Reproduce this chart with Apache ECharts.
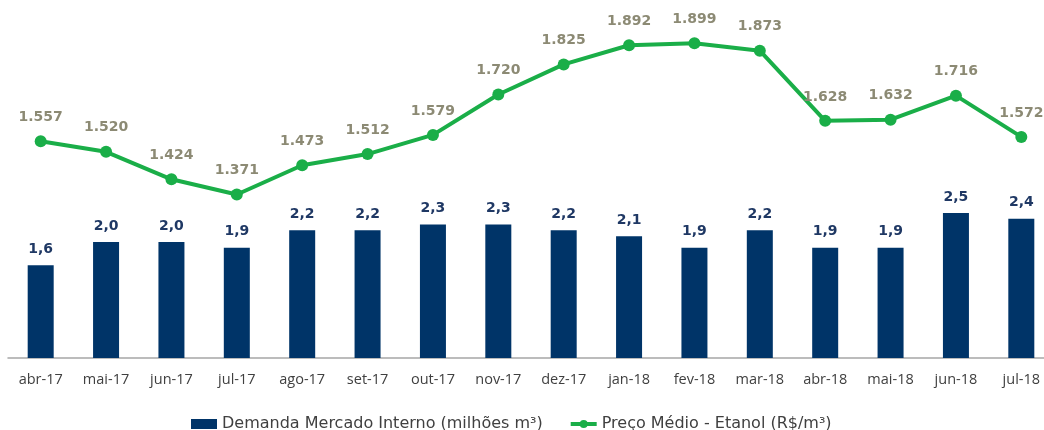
<!DOCTYPE html>
<html><head><meta charset="utf-8">
<script src="https://cdn.jsdelivr.net/npm/echarts@6/dist/echarts.min.js"></script>
<style>html,body{margin:0;padding:0;background:#fff;overflow:hidden}#c{width:1056px;height:430px}</style>
</head><body><div id="c"></div>
<script>
const categories = ['abr-17','mai-17','jun-17','jul-17','ago-17','set-17','out-17','nov-17','dez-17','jan-18','fev-18','mar-18','abr-18','mai-18','jun-18','jul-18'];
const demanda = [1.6,2.0,2.0,1.9,2.2,2.2,2.3,2.3,2.2,2.1,1.9,2.2,1.9,1.9,2.5,2.4];
const preco = [1.557,1.520,1.424,1.371,1.473,1.512,1.579,1.720,1.825,1.892,1.899,1.873,1.628,1.632,1.716,1.572];
const seriesNames = ['Demanda Mercado Interno (milhões m³)','Preço Médio - Etanol (R$/m³)'];

const FONT = '"DejaVu Sans", sans-serif';
const chart = echarts.init(document.getElementById('c'), null, {renderer:'canvas'});
chart.setOption({
  animation:false,
  textStyle:{fontFamily:FONT},
  grid:{left:8, right:2, top:0, height:358, containLabel:false},
  legend:{
    top:411, left:186, itemGap:26, itemWidth:26, itemHeight:10,
    textStyle:{fontSize:16, color:'#404040', fontFamily:FONT},
    data:[{name:seriesNames[0], icon:'rect'}, {name:seriesNames[1], lineStyle:{width:4}, itemStyle:{color:'#1aae48'}}]
  },
  xAxis:{
    type:'category', data:categories,
    axisLine:{lineStyle:{color:'#a6a6a6', width:1.5}},
    axisTick:{show:false},
    axisLabel:{interval:0, fontSize:14.5, color:'#404040', margin:14, fontFamily:'"Open Sans", "DejaVu Sans"'}
  },
  yAxis:[
    {type:'value', min:0, max:6.17, show:false, splitLine:{show:false}},
    {type:'value', min:0.8, max:2.05, show:false, splitLine:{show:false}}
  ],
  series:[
    {
      name:seriesNames[0], type:'bar', yAxisIndex:0, data:demanda, barWidth:26,
      itemStyle:{color:'#003468'},
      label:{show:true, position:'top', distance:9, fontSize:14, fontWeight:'bold', color:'#1f3864', fontFamily:FONT,
        formatter:p=>p.value.toFixed(1).replace('.',',')}
    },
    {
      name:seriesNames[1], type:'line', yAxisIndex:1, data:preco,
      lineStyle:{color:'#1aae48', width:4},
      itemStyle:{color:'#1aae48'},
      symbol:'circle', symbolSize:12,
      label:{show:true, position:'top', distance:11, fontSize:14, fontWeight:'bold', color:'#8c8a74', fontFamily:FONT,
        formatter:p=>p.value.toFixed(3)}
    }
  ]
});
</script></body></html>
